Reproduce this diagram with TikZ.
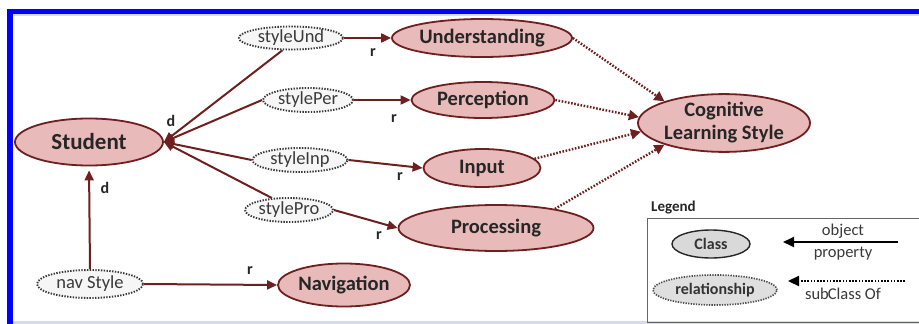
\documentclass[tikz,border=0pt]{standalone}
\usepackage{fontspec}
\setmainfont{Carlito}
\usetikzlibrary{shapes.geometric,arrows.meta}
\definecolor{fillc}{HTML}{E8BABA}
\definecolor{edgec}{HTML}{6E2020}
\definecolor{bluec}{HTML}{0000FF}
\definecolor{lav}{HTML}{D8D8F4}
\definecolor{txtg}{HTML}{3A3A3A}
\begin{document}
\begin{tikzpicture}[x=1pt,y=-1pt,
  cls/.style={ellipse, draw=edgec, line width=1.8pt, fill=fillc, inner sep=0pt,
    font=\bfseries\fontsize{20.5}{23}\selectfont, text=black!85},
  rel/.style={ellipse, draw=gray!45!black, line width=1.9pt, dash pattern=on 1.4pt off 1.4pt,
    fill=gray!7, inner sep=0pt, font=\fontsize{18.5}{19}\selectfont, text=txtg},
  arr/.style={draw=edgec, line width=2pt, -{Triangle[length=10pt,width=9pt]}},
  subc/.style={draw=edgec, line width=2.4pt, dash pattern=on 1.6pt off 1.6pt, -{Triangle[length=10pt,width=10pt]}},
  lbl/.style={font=\bfseries\fontsize{16}{17}\selectfont, text=black!85, inner sep=0pt},
  lgcls/.style={ellipse, draw=black!85, line width=1.4pt, fill=gray!30, inner sep=0pt,
    font=\bfseries\fontsize{16}{17}\selectfont, text=black!80},
  lgrel/.style={ellipse, draw=black!70, line width=1.7pt, dash pattern=on 1.3pt off 1.3pt, fill=gray!25, inner sep=0pt,
    font=\bfseries\fontsize{16}{17}\selectfont, text=black!80},
  lgtxt/.style={font=\fontsize{16.5}{17}\selectfont, text=txtg, inner sep=0pt}
]
\useasboundingbox (0,0) rectangle (919,324);
% frame
\fill[lav] (13,14) rectangle (919,15.5);
\fill[lav] (13,321) rectangle (919,324);
\fill[bluec] (7,9) rectangle (919,14);
\fill[bluec] (7,9) rectangle (13,324);

% class nodes
\node[cls, minimum width=148, minimum height=47, font=\bfseries\fontsize{23}{24}\selectfont] (student) at (89,142) {Student};
\node[cls, minimum width=180, minimum height=38] (und) at (482,38) {Understanding};
\node[cls, minimum width=143, minimum height=36] (per) at (483,100) {Perception};
\node[cls, minimum width=117, minimum height=38] (inp) at (482,168) {Input};
\node[cls, minimum width=195, minimum height=46] (pro) at (496,228) {Processing};
\node[cls, minimum width=172, minimum height=54, align=center] (cog) at (724,123) {Cognitive\\Learning Style};
\node[cls, minimum width=132, minimum height=43] (nav) at (344,285) {Navigation};

% relationship nodes
\node[rel, minimum width=104, minimum height=23] (sund) at (291,38) {styleUnd};
\node[rel, minimum width=90, minimum height=24] (sper) at (308,100) {stylePer};
\node[rel, minimum width=95, minimum height=24] (sinp) at (300,160) {styleInp};
\node[rel, minimum width=88, minimum height=24] (spro) at (289,210) {stylePro};
\node[rel, minimum width=106, minimum height=28] (snav) at (90,284) {nav Style};

\coordinate (J) at (student.east);

% domain arrows
\draw[arr] (sund.235) -- (J);
\draw[arr] (sper.west) -- (J);
\draw[arr] (sinp.west) -- (J);
\draw[arr] (spro.145) -- (J);
\draw[arr, shorten >=4pt] (snav.north) -- (student.south);

% range arrows
\draw[arr] (sund.east) -- (und.west);
\draw[arr] (sper.east) -- (per.west);
\draw[arr] (sinp.east) -- (inp.west);
\draw[arr] (spro.east) -- (pro.west);
\draw[arr] (snav.east) -- (nav.west);

% subclass
\draw[subc] (und.east) -- (cog.160);
\draw[subc] (per.east) -- (cog.176);
\draw[subc] (inp.10) -- (cog.186);
\draw[subc] (pro.18) -- (cog.200);

% labels
\node[lbl] (d1) at (171,121) {d};
\node[lbl] (d2) at (105,188) {d};
\node[lbl] (r1) at (373,53) {r};
\node[lbl] (r2) at (394,119) {r};
\node[lbl] (r3) at (400,177) {r};
\node[lbl] (r4) at (379,236) {r};
\node[lbl] (r5) at (250,271) {r};

% legend
\node[font=\bfseries\fontsize{15}{16}\selectfont, text=black!85, anchor=west, inner sep=0pt] (lgtitle) at (651,208) {Legend};
\draw[black!60, line width=1pt] (930,218) -- (647,218) -- (647,322) -- (930,322);
\node[lgcls, minimum width=78, minimum height=28] (lgc) at (711,244) {Class};
\node[lgrel, minimum width=124, minimum height=30] (lgr) at (715,290) {relationship};
\coordinate (op1) at (898,242);
\coordinate (op2) at (783,242);
\draw[black, line width=1.8pt, -{Triangle[length=11pt,width=10pt]}] (op1) -- (op2);
\node[lgtxt] (obj) at (843,231) {object};
\node[lgtxt] (prop) at (843,254) {property};
\coordinate (sc1) at (905,281);
\coordinate (sc2) at (788,281);
\draw[black, line width=2.3pt, dash pattern=on 1.6pt off 1.6pt, -{Triangle[length=11pt,width=10pt]}] (sc1) -- (sc2);
\node[lgtxt] (scof) at (843,294) {sub\hspace{-1pt}Class Of};
\end{tikzpicture}
\end{document}
